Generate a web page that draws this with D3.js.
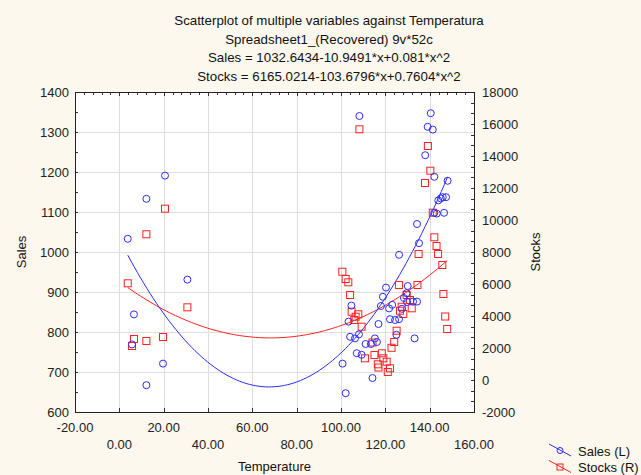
<!DOCTYPE html>
<html>
<head>
<meta charset="utf-8">
<script src="https://cdn.jsdelivr.net/npm/d3@7"></script>
<style>
  html, body { margin: 0; padding: 0; background: #fdf8ed; }
  svg { display: block; font-family: "Liberation Sans", Arial, sans-serif; }
  .tick-label { font-size: 13px; fill: #222; }
</style>
</head>
<body>
<div id="chart"></div>
<script>
const width = 641;
const height = 475;

// titles
const titleLines = [
  'Scatterplot of multiple variables against Temperatura',
  'Spreadsheet1_(Recovered) 9v*52c',
  'Sales = 1032.6434-10.9491*x+0.081*x^2',
  'Stocks = 6165.0214-103.6796*x+0.7604*x^2'
];

// x axis ticks, written out like the original
const xTicks = [-20, 0, 20, 40, 60, 80, 100, 120, 140, 160];
const salesTicks = [600, 700, 800, 900, 1000, 1100, 1200, 1300, 1400];
const stocksTicks = [-2000, 0, 2000, 4000, 6000, 8000, 10000, 12000, 14000, 16000, 18000];

// fitted coefficients (c0 + c1*x + c2*x^2)
const salesFit = [1032.6434, -10.9491, 0.081];
const stocksFit = [6165.0214, -103.6796, 0.7604];

// Sales (left axis): temperature / value
const salesTemp = [20.6, 12.2, 3.8, 30.7, 6.6, 5.7, 19.7, 12.2,
  108.3, 140.5, 139.1, 141.4, 138.0, 142.1, 148.1, 143.9, 145.0, 145.9, 147.4, 142.1, 143.2, 146.5, 134.3, 135.2,
  126.2, 120.3, 118.9, 130.1, 129.6, 123.1, 121.7, 118.0, 128.4, 129.8, 132.5, 134.3, 127.5, 122.1, 124.4, 126.2,
  125.0, 133.2, 116.9, 104.7, 103.4, 108.1, 104.1, 106.3, 115.3, 116.2, 113.5, 111.1, 107.1, 109.3, 100.7, 114.2, 102.1];
const salesValues = [1191, 1133, 1033, 931, 844, 769, 721, 667,
  1340, 1347, 1313, 1306, 1242, 1188, 1178, 1129, 1134, 1137, 1137, 1098, 1096, 1098, 1070, 1022,
  993, 911, 888, 915, 897, 868, 859, 865, 885, 875, 876, 876, 858, 832, 830, 832,
  793, 784, 820, 866, 826, 794, 788, 784, 784, 775, 770, 770, 747, 743, 721, 685, 647];

// Stocks (right axis): temperature / value
const stocksTemp = [20.6, 12.2, 3.8, 30.7, 6.6, 5.7, 12.2, 19.7,
  108.3, 139.2, 140.3, 137.9, 141.4, 142.1, 143.1, 143.8, 135.0, 145.7, 126.2, 134.5, 146.2, 147.0, 147.9,
  129.6, 131.1, 131.9, 127.4, 126.6, 128.1, 125.1, 124.0, 122.8,
  100.6, 102.1, 103.3, 104.1, 104.8, 106.6, 107.8, 106.0, 109.3,
  110.8, 114.2, 115.1, 118.4, 119.1, 116.6, 116.9, 120.6, 122.1, 121.1];
const stocksValues = [10706, 9106, 6044, 4544, 2563, 2125, 2438, 2688,
  15669, 14625, 13081, 12313, 10456, 8919, 8375, 7875, 7875, 7188, 5938, 5938, 5375, 3969, 3188,
  5313, 5000, 4481, 4581, 4331, 4125, 3081, 2375, 2013,
  6769, 6313, 6106, 5313, 4269, 3956, 4106, 3750, 3331,
  1356, 2344, 1563, 1669, 1356, 981, 781, 1144, 731, 500];

const blue = '#2a2aff';
const red = '#ff2020';

const area = { left: 75, right: 474, top: 92, bottom: 412 };

const svg = d3.select('#chart').append('svg')
  .attr('width', width)
  .attr('height', height);

const xScale = d3.scaleLinear().domain([-20, 160]).range([area.left, area.right]);
const yLeft = d3.scaleLinear().domain([600, 1400]).range([area.bottom, area.top]);
const yRight = d3.scaleLinear().domain([-2000, 18000]).range([area.bottom, area.top]);

// title
svg.append('g').selectAll('text')
  .data(titleLines)
  .join('text')
  .attr('x', 329)
  .attr('y', (d, i) => 25 + i * 18.5)
  .attr('text-anchor', 'middle')
  .style('font-size', '13.3px')
  .attr('fill', '#111')
  .text(d => d);

// plot background
svg.append('rect')
  .attr('x', area.left).attr('y', area.top)
  .attr('width', area.right - area.left).attr('height', area.bottom - area.top)
  .attr('fill', '#fff');

// grid
const grid = svg.append('g').attr('stroke', '#dedede').attr('stroke-width', 1);
grid.selectAll('.vg')
  .data(xTicks.slice(1, -1))
  .join('line')
  .attr('x1', d => Math.round(xScale(d)) + 0.5).attr('x2', d => Math.round(xScale(d)) + 0.5)
  .attr('y1', area.top).attr('y2', area.bottom);
grid.selectAll('.hg')
  .data(salesTicks.slice(1, -1))
  .join('line')
  .attr('y1', d => Math.round(yLeft(d)) + 0.5).attr('y2', d => Math.round(yLeft(d)) + 0.5)
  .attr('x1', area.left).attr('x2', area.right);

// inner ticks
const ticks = svg.append('g').attr('stroke', '#333').attr('stroke-width', 1);
ticks.selectAll('.lt')
  .data(d3.range(600, 1401, 50))
  .join('line')
  .attr('x1', area.left).attr('x2', area.left + 3)
  .attr('y1', d => Math.round(yLeft(d)) + 0.5).attr('y2', d => Math.round(yLeft(d)) + 0.5);
ticks.selectAll('.rt')
  .data(d3.range(-2000, 18001, 2000 / 3))
  .join('line')
  .attr('x1', area.right - 3).attr('x2', area.right)
  .attr('y1', d => Math.round(yRight(d)) + 0.5).attr('y2', d => Math.round(yRight(d)) + 0.5);
ticks.selectAll('.tt')
  .data(d3.range(-20, 161, 4))
  .join('line')
  .attr('x1', d => Math.round(xScale(d)) + 0.5).attr('x2', d => Math.round(xScale(d)) + 0.5)
  .attr('y1', area.top).attr('y2', d => area.top + (d % 20 === 0 ? 4 : 3));
ticks.selectAll('.bt')
  .data(xTicks)
  .join('line')
  .attr('x1', d => Math.round(xScale(d)) + 0.5).attr('x2', d => Math.round(xScale(d)) + 0.5)
  .attr('y1', area.bottom - 4).attr('y2', area.bottom);

// frame
svg.append('rect')
  .attr('x', area.left + 0.5).attr('y', area.top + 0.5)
  .attr('width', area.right - area.left).attr('height', area.bottom - area.top)
  .attr('fill', 'none').attr('stroke', '#222').attr('stroke-width', 1);

// tick labels
svg.append('g').selectAll('text')
  .data(salesTicks)
  .join('text')
  .attr('class', 'tick-label')
  .attr('x', area.left - 6)
  .attr('y', d => yLeft(d) + 4.5)
  .attr('text-anchor', 'end')
  .text(d => d);

svg.append('g').selectAll('text')
  .data(stocksTicks)
  .join('text')
  .attr('class', 'tick-label')
  .attr('x', area.right + 8)
  .attr('y', d => yRight(d) + 4.5)
  .text(d => d);

svg.append('g').selectAll('text')
  .data(xTicks)
  .join('text')
  .attr('class', 'tick-label')
  .attr('x', d => xScale(d))
  .attr('y', (d, i) => i % 2 === 0 ? 432 : 449)
  .attr('text-anchor', 'middle')
  .text(d => d.toFixed(2));

// axis titles
svg.append('text')
  .attr('x', xScale(70)).attr('y', 471)
  .attr('text-anchor', 'middle').style('font-size', '13px').attr('fill', '#111')
  .text('Temperature');
svg.append('text')
  .attr('transform', 'translate(26,252) rotate(-90)')
  .attr('text-anchor', 'middle').style('font-size', '13px').attr('fill', '#111')
  .text('Sales');
svg.append('text')
  .attr('transform', 'translate(540,252) rotate(-90)')
  .attr('text-anchor', 'middle').style('font-size', '13px').attr('fill', '#111')
  .text('Stocks');

// fitted curves
function fitPoints(coef, temps) {
  const [lo, hi] = d3.extent(temps);
  return d3.range(0, 101).map(i => {
    const x = lo + (hi - lo) * i / 100;
    return [x, coef[0] + coef[1] * x + coef[2] * x * x];
  });
}

const plot = svg.append('g');

plot.append('path')
  .datum(fitPoints(stocksFit, stocksTemp))
  .attr('fill', 'none').attr('stroke', red).attr('stroke-width', 1)
  .attr('d', d3.line().x(d => xScale(d[0])).y(d => yRight(d[1])));

plot.append('path')
  .datum(fitPoints(salesFit, salesTemp))
  .attr('fill', 'none').attr('stroke', blue).attr('stroke-width', 1)
  .attr('d', d3.line().x(d => xScale(d[0])).y(d => yLeft(d[1])));

// points
const stockData = stocksTemp.map((t, i) => ({ t, v: stocksValues[i] }));
const salesData = salesTemp.map((t, i) => ({ t, v: salesValues[i] }));

plot.append('g').selectAll('rect')
  .data(stockData)
  .join('rect')
  .attr('x', d => xScale(d.t) - 3.5)
  .attr('y', d => yRight(d.v) - 3.5)
  .attr('width', 7).attr('height', 7)
  .attr('fill', 'none').attr('stroke', red).attr('stroke-width', 1);

plot.append('g').selectAll('circle')
  .data(salesData)
  .join('circle')
  .attr('cx', d => xScale(d.t))
  .attr('cy', d => yLeft(d.v))
  .attr('r', 3.5)
  .attr('fill', 'none').attr('stroke', blue).attr('stroke-width', 1);

// legend with slanted line + marker
const legend = svg.append('g').attr('transform', 'translate(549,444)');
const legendItems = [
  { label: 'Sales (L)', color: blue, shape: 'circle' },
  { label: 'Stocks (R)', color: red, shape: 'square' }
];
legendItems.forEach((item, i) => {
  const g = legend.append('g').attr('transform', `translate(0, ${i * 16.5})`);
  g.append('line')
    .attr('x1', 0).attr('y1', 0).attr('x2', 22).attr('y2', 12)
    .attr('stroke', item.color).attr('stroke-width', 1);
  if (item.shape === 'circle') {
    g.append('circle').attr('cx', 11).attr('cy', 6.5).attr('r', 3)
      .attr('fill', 'none').attr('stroke', item.color);
  } else {
    g.append('rect').attr('x', 8).attr('y', 3.5).attr('width', 6).attr('height', 6)
      .attr('fill', 'none').attr('stroke', item.color);
  }
  g.append('text')
    .attr('x', 29).attr('y', 11.5)
    .style('font-size', '13px').attr('fill', '#111')
    .text(item.label);
});
</script>
</body>
</html>
